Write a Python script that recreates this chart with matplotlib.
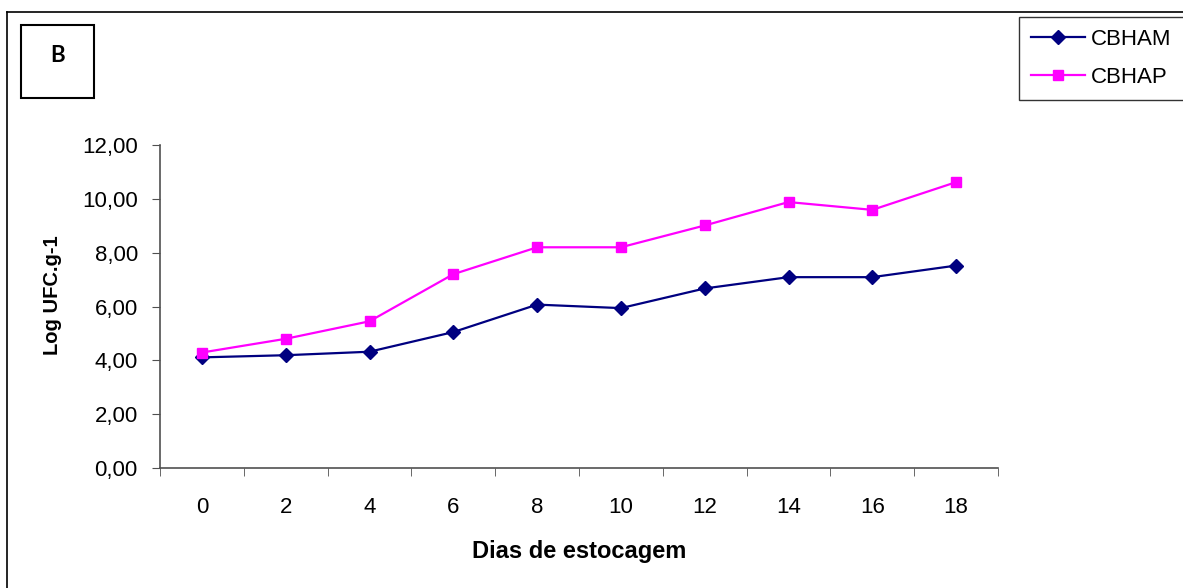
import matplotlib.pyplot as plt
from matplotlib.lines import Line2D
from matplotlib.patches import Rectangle

plt.rcParams["font.family"] = ["Liberation Sans", "DejaVu Sans"]

# storage days and log counts per treatment
dias = ["0", "2", "4", "6", "8", "10", "12", "14", "16", "18"]
cbham = [4.11, 4.19, 4.32, 5.05, 6.07, 5.94, 6.67, 7.09, 7.09, 7.52]
cbhap = [4.29, 4.80, 5.45, 7.20, 8.20, 8.20, 9.01, 9.88, 9.59, 10.62]
y_ticks = [0, 2, 4, 6, 8, 10, 12]

W, H = 1183, 588
fig = plt.figure(figsize=(W / 100, H / 100), dpi=100)


def px(x0, y0, x1, y1):
    # pixel box (top-left origin) -> figure fraction rect
    return [x0 / W, 1 - y1 / H, (x1 - x0) / W, (y1 - y0) / H]


ax = fig.add_axes(px(160, 145, 998, 468))
idx = range(len(dias))
ax.plot(idx, cbham, color="#000080", marker="D", markersize=7.5, linewidth=1.6,
        label="CBHAM")
ax.plot(idx, cbhap, color="#FF00FF", marker="s", markersize=7.5, linewidth=1.6,
        label="CBHAP")

ax.set_xlim(-0.5, len(dias) - 0.5)
ax.set_ylim(0, 12)
ax.set_yticks(y_ticks)
ax.set_yticklabels([f"{v:.2f}".replace(".", ",") for v in y_ticks])
ax.set_xticks(list(idx))
ax.set_xticklabels(dias)
ax.set_xticks([i - 0.5 for i in range(len(dias) + 1)], minor=True)
ax.tick_params(axis="x", which="major", length=0, pad=21, labelsize=16)
ax.tick_params(axis="x", which="minor", length=6, direction="out",
               color="#505050")
ax.tick_params(axis="y", length=6, direction="out", pad=10, labelsize=16,
               color="#505050")

for side in ("top", "right"):
    ax.spines[side].set_visible(False)
for side in ("left", "bottom"):
    ax.spines[side].set_color("#505050")
    ax.spines[side].set_linewidth(1.2)

ax.set_xlabel("Dias de estocagem", fontsize=17, fontweight="bold", labelpad=16)
ax.set_ylabel("Log UFC.g-1", fontsize=14.5, fontweight="bold")
ax.yaxis.set_label_coords(-0.117, 0.536)

# outer chart frame (left and top edges)
fig.add_artist(Line2D([7 / W, 7 / W], [0, 1 - 12 / H], color="black", lw=1.2))
fig.add_artist(Line2D([7 / W, 1], [1 - 12 / H, 1 - 12 / H], color="black",
                      lw=1.2))

# panel letter box
x0, y0, w, h = px(21, 25, 94, 98)
fig.add_artist(Rectangle((x0, y0), w, h, transform=fig.transFigure,
                         fill=False, edgecolor="black", lw=1.5))
fig.text(58 / W, 1 - 56 / H, "B", ha="center", va="center", fontsize=16,
         fontweight="bold", family=["Lato", "Liberation Sans"])

leg = fig.legend(loc="upper left", bbox_to_anchor=(1019 / W, 1 - 17 / H),
                 frameon=True, fancybox=False, edgecolor="black",
                 fontsize=16, handlelength=2.4, handletextpad=0.3,
                 borderpad=0.55, labelspacing=0.75, borderaxespad=0)
leg.get_frame().set_linewidth(1.0)

fig.savefig("out.png", dpi=100)
